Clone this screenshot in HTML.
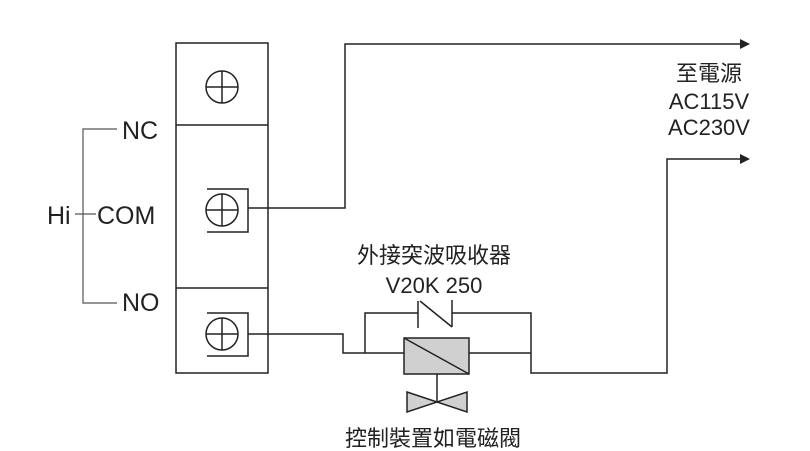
<!DOCTYPE html>
<html><head><meta charset="utf-8"><style>body{margin:0;background:#fff}svg{display:block}</style></head>
<body>
<svg width="810" height="451" viewBox="0 0 810 451" xmlns="http://www.w3.org/2000/svg" font-family="Liberation Sans, Noto Sans CJK TC, sans-serif" fill="#222">
<g stroke="#222" stroke-width="1.5" fill="none">
<rect x="176" y="43" width="92" height="330"/>
<line x1="176" y1="125" x2="268" y2="125"/>
<line x1="176" y1="288" x2="268" y2="288"/>
<circle cx="222" cy="87" r="16"/><line x1="206" y1="87" x2="238" y2="87"/><line x1="222" y1="71" x2="222" y2="103"/>
<polyline points="207,189 248,189 248,232 207,232"/>
<circle cx="222" cy="210" r="16"/><line x1="206" y1="210" x2="238" y2="210"/><line x1="222" y1="194" x2="222" y2="226"/>
<polyline points="207,313 248,313 248,356 207,356"/>
<circle cx="222" cy="334" r="16"/><line x1="206" y1="334" x2="238" y2="334"/><line x1="222" y1="318" x2="222" y2="350"/>
<polyline points="117,129 83,129 83,303 117,303" stroke="#555" stroke-width="1.2"/>
<line x1="75" y1="214" x2="96" y2="214" stroke="#555" stroke-width="1.2"/>
<polyline points="248,208 345,208 345,44 742,44"/>
<polyline points="248,334 343,334 343,353 404,353"/>
<polyline points="469,353 531,353"/>
<polyline points="365,353 365,313 418,313"/>
<line x1="418" y1="301" x2="418" y2="328"/>
<line x1="420" y1="301" x2="452" y2="327"/>
<line x1="452" y1="300" x2="452" y2="327"/>
<polyline points="452,313 531,313 531,373 667,373 667,159 742,159"/>
<rect x="404" y="338" width="65" height="36" fill="#d0d0d0"/>
<line x1="404" y1="338" x2="469" y2="374"/>
<line x1="437" y1="374" x2="437" y2="402"/>
<polygon points="407,392 467,412 467,392 407,412" fill="#d0d0d0"/>
</g>
<polygon points="740,39 750,44 740,49" fill="#222"/>
<polygon points="740,154 750,159 740,164" fill="#222"/>
<g font-size="25">
<text x="122" y="139">NC</text>
<text x="47" y="224">Hi</text>
<text x="97" y="224">COM</text>
<text x="122" y="311">NO</text>
</g>
<g font-size="22" text-anchor="middle">
<text x="709" y="81">至電源</text>
<text x="709" y="109">AC115V</text>
<text x="709" y="135">AC230V</text>
<text x="434" y="263">外接突波吸收器</text>
<text x="434" y="293">V20K 250</text>
<text x="433" y="446">控制裝置如電磁閥</text>
</g>
</svg>
</body></html>
